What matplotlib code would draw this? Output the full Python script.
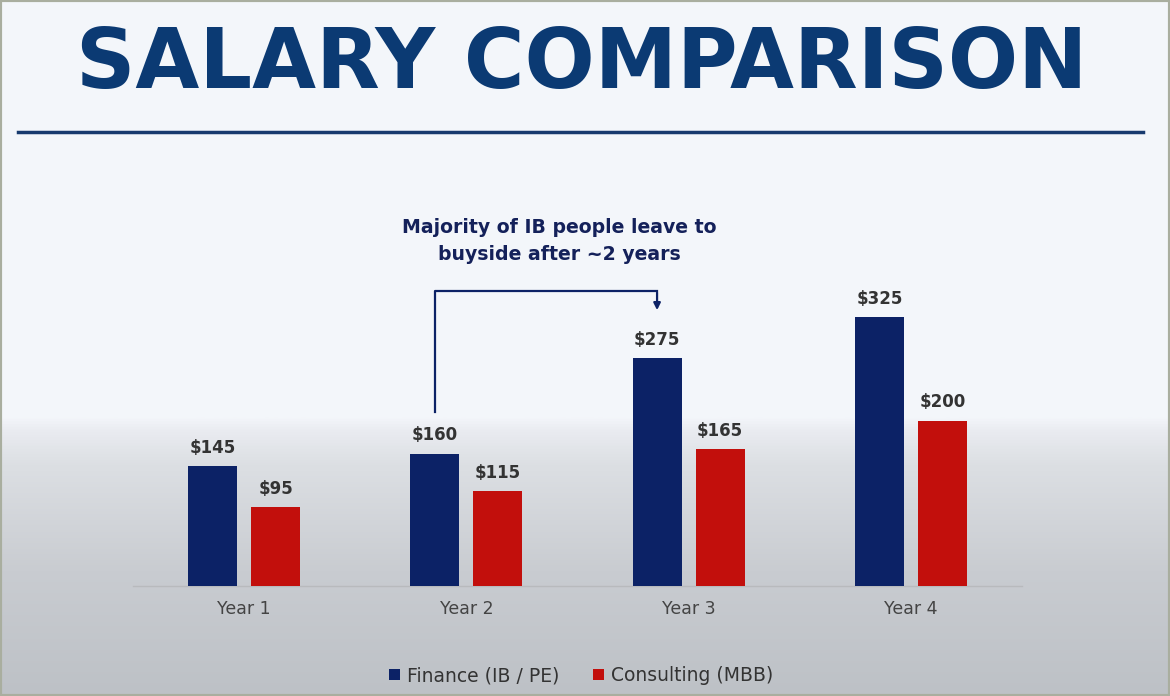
import numpy as np
import matplotlib.pyplot as plt
from matplotlib.colors import LinearSegmentedColormap
from matplotlib.patches import Rectangle
plt.switch_backend('agg')

years = ['Year 1', 'Year 2', 'Year 3', 'Year 4']
finance = [145, 160, 275, 325]
consulting = [95, 115, 165, 200]
series_names = ['Finance (IB / PE)', 'Consulting (MBB)']

navy = '#0c2266'
red = '#c20f0c'
title_blue = '#0b3a73'
label_gray = '#333333'

fig = plt.figure(figsize=(11.7, 6.96), dpi=100)

# background gradient (light at top, grey at the bottom)
bg = fig.add_axes([0, 0, 1, 1], zorder=-10)
cmap = LinearSegmentedColormap.from_list(
    'bg', [(0.0, '#bdc1c6'), (0.18, '#c9ccd1'), (0.33, '#dcdfe3'), (0.38, '#e9ebf0'),
           (0.40, '#f3f6fa'), (1.0, '#f4f7fb')])
grad = np.linspace(0, 1, 512).reshape(-1, 1)
bg.imshow(grad, aspect='auto', cmap=cmap, origin='lower', extent=[0, 1, 0, 1])
bg.set_xlim(0, 1)
bg.set_ylim(0, 1)
bg.axis('off')
bg.add_patch(Rectangle((0, 0), 1, 1, fill=False, edgecolor='#a9ae9f', lw=3, transform=bg.transAxes))

# title and rule
fig.text(0.497, 1 - 88 / 696, 'SALARY COMPARISON', ha='center', va='baseline',
         fontsize=59.5, fontweight='bold', color=title_blue, family='DejaVu Sans')
bg.plot([18 / 1170, 1143 / 1170], [1 - 132 / 696, 1 - 132 / 696], color='#173a6e', lw=2.5)

# main chart
ax = fig.add_axes([133 / 1170, 1 - 586 / 696, 889 / 1170, 331 / 696])
ax.patch.set_alpha(0)
x = np.arange(len(years))
w = 0.22
off = 0.142
b1 = ax.bar(x - off, finance, w, color=navy, label=series_names[0], zorder=3)
b2 = ax.bar(x + off, consulting, w, color=red, label=series_names[1], zorder=3)
ax.set_xlim(-0.5, 3.5)
ax.set_ylim(0, 400)

for bars, vals in ((b1, finance), (b2, consulting)):
    for b, v in zip(bars, vals):
        ax.text(b.get_x() + b.get_width() / 2, v + 11, '$%d' % v, ha='center', va='bottom',
                fontsize=12, color=label_gray, fontweight='semibold', family='DejaVu Sans')

for s in ('top', 'right', 'left'):
    ax.spines[s].set_visible(False)
ax.spines['bottom'].set_color('#b8babd')
ax.spines['bottom'].set_linewidth(1)
ax.set_yticks([])
ax.set_xticks(x)
ax.set_xticklabels(years, fontsize=12.5, color='#444444')
ax.tick_params(axis='x', length=0, pad=10)

# bracket arrow: Year 2 finance -> Year 3 finance
x0, x1 = 1 - off, 2 - off
ax.plot([x0, x0, x1], [210, 357, 357], color=navy, lw=1.6, clip_on=False)
ax.annotate('', xy=(x1, 330), xytext=(x1, 358),
            arrowprops=dict(arrowstyle='-|>', color=navy, lw=1.6, mutation_scale=10),
            annotation_clip=False)
ax.text(1.417, 417, 'Majority of IB people leave to\nbuyside after ~2 years', ha='center', va='center',
        fontsize=13.6, color='#14215a', fontweight='semibold', linespacing=1.55, clip_on=False)

fig.legend(handles=[b1, b2], labels=series_names, loc='center', bbox_to_anchor=(0.497, 0.029),
           ncol=2, frameon=False, fontsize=13.5, handlelength=0.55, handleheight=0.55,
           handletextpad=0.4, columnspacing=1.8, labelcolor='#333333')

fig.savefig('out.png', dpi=100)
